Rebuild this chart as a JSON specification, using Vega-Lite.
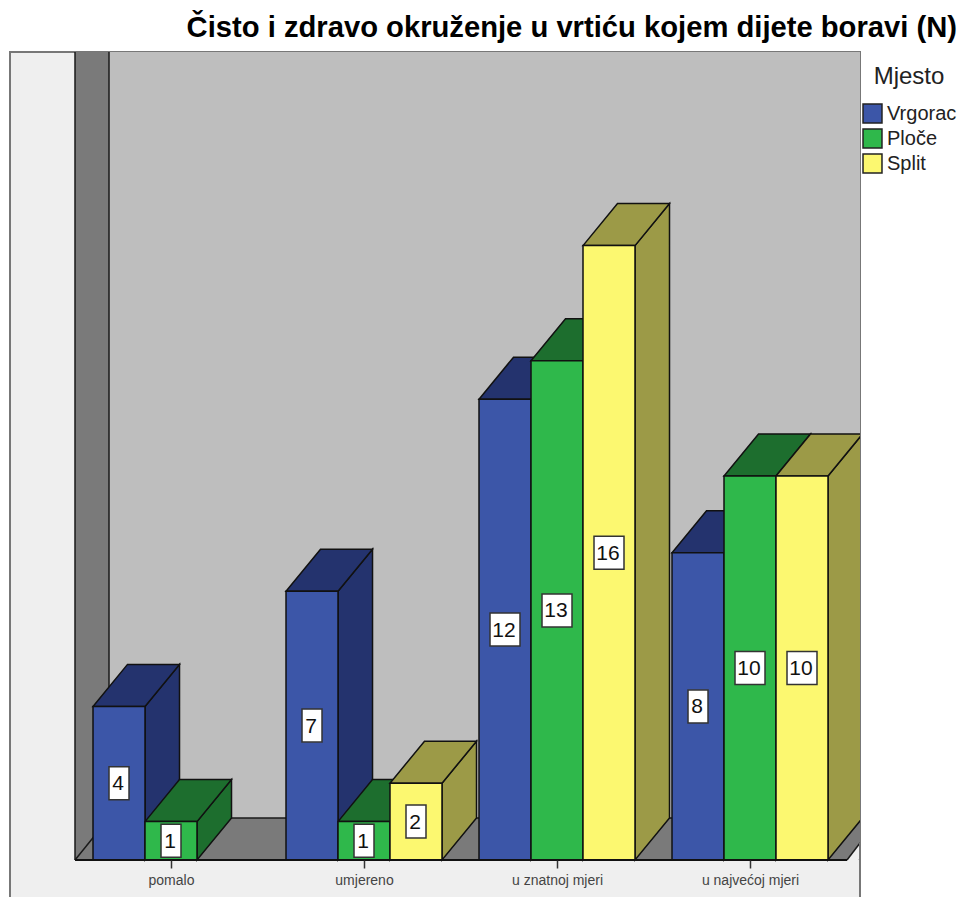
{
"$schema":"https://vega.github.io/schema/vega-lite/v6.json",
"width":850,"height":845,"autosize":"none",
"padding":{"left":10,"top":52,"right":101,"bottom":0},
"background":"white",
"title":{"text":"Čisto i zdravo okruženje u vrtiću kojem dijete boravi (N)","anchor":"end","frame":"group","dx":97,"offset":8,"font":"Liberation Sans","fontSize":29.2,"fontWeight":"bold","color":"#000000"},
"data":{"values":[
{"category":"pomalo","series":"Vrgorac","value":4},
{"category":"pomalo","series":"Ploče","value":1},
{"category":"umjereno","series":"Vrgorac","value":7},
{"category":"umjereno","series":"Ploče","value":1},
{"category":"umjereno","series":"Split","value":2},
{"category":"u znatnoj mjeri","series":"Vrgorac","value":12},
{"category":"u znatnoj mjeri","series":"Ploče","value":13},
{"category":"u znatnoj mjeri","series":"Split","value":16},
{"category":"u najvećoj mjeri","series":"Vrgorac","value":8},
{"category":"u najvećoj mjeri","series":"Ploče","value":10},
{"category":"u najvećoj mjeri","series":"Split","value":10}
]},
"transform":[
{"calculate":"indexof(['pomalo','umjereno','u znatnoj mjeri','u najvećoj mjeri'],datum.category)","as":"cat"},
{"calculate":"indexof(['Vrgorac','Ploče','Split'],datum.series)","as":"ser"},
{"calculate":"datum.cat+(datum.ser-1.5)*0.2694","as":"xl"},
{"calculate":"datum.xl+0.2694","as":"xr"},
{"calculate":"datum.category+datum.series","as":"key"}
],
"layer":[
{"data":{"values":[{}]},"mark":{"type":"rect","fill":"#efefef","stroke":"#777777","strokeWidth":2},
 "encoding":{"x":{"datum":-0.8342,"type":"quantitative","scale":{"domain":[-0.8342,3.5699],"nice":false,"zero":false},
   "axis":{"title":null,"values":[0,1,2,3],"labelExpr":"['pomalo','umjereno','u znatnoj mjeri','u najvećoj mjeri'][datum.value]","offset":-37,"domain":false,"grid":false,"tickSize":8,"tickWidth":1.5,"tickColor":"#333333","labelFontSize":14,"labelFont":"Liberation Sans","labelColor":"#444444","labelPadding":5,"zindex":1}},
  "x2":{"datum":3.5699},
  "y":{"datum":-1.2,"type":"quantitative","scale":{"domain":[-0.9635,21.042],"nice":false,"zero":false},"axis":null},
  "y2":{"datum":21.042}}},
{"data":{"values":[{}]},"mark":{"type":"rect","fill":"#7a7a7a"},
 "encoding":{"x":{"datum":-0.4974,"type":"quantitative"},"x2":{"datum":3.5699},"y":{"datum":0,"type":"quantitative"},"y2":{"datum":21.042}}},
{"data":{"values":[{}]},"mark":{"type":"rect","fill":"#bebebe"},
 "encoding":{"x":{"datum":-0.3212,"type":"quantitative"},"x2":{"datum":3.5699},"y":{"datum":1.094,"type":"quantitative"},"y2":{"datum":21.042}}},
{"data":{"values":[{}]},"mark":{"type":"rule","stroke":"#efefef","strokeWidth":9,"clip":true},
 "encoding":{"x":{"datum":3.5057,"type":"quantitative"},"x2":{"datum":3.6041},"y":{"datum":-0.1745,"type":"quantitative"},"y2":{"datum":0.4766}}},
{"data":{"values":[{}]},"mark":{"type":"rule","stroke":"#1a1a1a","strokeWidth":1.5},
 "encoding":{"x":{"datum":-0.4974,"type":"quantitative"},"y":{"datum":0,"type":"quantitative"},"y2":{"datum":21.042}}},
{"data":{"values":[{}]},"mark":{"type":"rule","stroke":"#1a1a1a","strokeWidth":1.5},
 "encoding":{"x":{"datum":-0.3212,"type":"quantitative"},"y":{"datum":1.094,"type":"quantitative"},"y2":{"datum":21.042}}},
{"data":{"values":[{}]},"mark":{"type":"rule","stroke":"#1a1a1a","strokeWidth":1.5},
 "encoding":{"x":{"datum":-0.3212,"type":"quantitative"},"x2":{"datum":3.5699},"y":{"datum":1.094,"type":"quantitative"}}},
{"data":{"values":[{}]},"mark":{"type":"rule","stroke":"#1a1a1a","strokeWidth":1.5},
 "encoding":{"x":{"datum":-0.4974,"type":"quantitative"},"x2":{"datum":-0.3212},"y":{"datum":0,"type":"quantitative"},"y2":{"datum":1.094}}},
{"data":{"values":[{}]},"mark":{"type":"rule","stroke":"#1a1a1a","strokeWidth":1.5},
 "encoding":{"x":{"datum":3.5026,"type":"quantitative"},"x2":{"datum":3.5699},"y":{"datum":0,"type":"quantitative"},"y2":{"datum":0.4427}}},
{"data":{"values":[{}]},"mark":{"type":"rule","stroke":"#777777","strokeWidth":2},
 "encoding":{"x":{"datum":3.5699,"type":"quantitative"},"y":{"datum":-1.2,"type":"quantitative"},"y2":{"datum":0.4427}}},
{"transform":[{"calculate":"[0,1]","as":"t"},{"flatten":["t"]},
  {"calculate":"datum.xr+datum.t*0.1788","as":"px"},
  {"calculate":"datum.value+datum.t*1.094","as":"py"},
  {"calculate":"datum.t*1.094","as":"py2"}],
 "mark":{"type":"area","stroke":"#111111","strokeWidth":1.5,"clip":true},
 "encoding":{"x":{"field":"px","type":"quantitative"},"y":{"field":"py","type":"quantitative"},"y2":{"field":"py2"},"detail":{"field":"key"},
  "fill":{"field":"series","type":"nominal","legend":null,"scale":{"domain":["Vrgorac","Ploče","Split"],"range":["#24336e","#1d6e2e","#9c9a47"]}}}},
{"transform":[{"calculate":"[0,1,2,3]","as":"t"},{"flatten":["t"]},
  {"calculate":"datum.t==0?datum.xl:datum.t==1?datum.xl+0.1788:datum.t==2?datum.xr:datum.xr+0.1788","as":"px"},
  {"calculate":"datum.t==0?datum.value:datum.value+1.094","as":"py"},
  {"calculate":"datum.t==3?datum.value+1.094:datum.value","as":"py2"}],
 "mark":{"type":"area","stroke":"#111111","strokeWidth":1.5,"clip":true},
 "encoding":{"x":{"field":"px","type":"quantitative"},"y":{"field":"py","type":"quantitative"},"y2":{"field":"py2"},"detail":{"field":"key"},
  "fill":{"field":"series","type":"nominal","legend":null,"scale":{"domain":["Vrgorac","Ploče","Split"],"range":["#24336e","#1d6e2e","#9c9a47"]}}}},
{"transform":[{"calculate":"0","as":"base"}],
 "mark":{"type":"rect","stroke":"#111111","strokeWidth":1.5},
 "encoding":{"x":{"field":"xl","type":"quantitative"},"x2":{"field":"xr"},"y":{"field":"value","type":"quantitative"},"y2":{"field":"base"},
  "color":{"field":"series","type":"nominal","scale":{"domain":["Vrgorac","Ploče","Split"],"range":["#3c56a8","#2fb84b","#fcf870"]},
   "legend":{"title":"Mjesto","orient":"none","legendX":852,"legendY":13,"symbolType":"square","symbolSize":360,"symbolStrokeColor":"#222222","symbolStrokeWidth":1.5,"titleFont":"Liberation Sans","titleFontSize":24,"titleFontWeight":"normal","titleColor":"#222222","titleAnchor":"middle","titlePadding":14,"labelFont":"Liberation Sans","labelFontSize":20,"labelColor":"#222222","labelOffset":4,"rowPadding":0,"padding":0}}}},
{"data":{"values":[{}]},"mark":{"type":"rule","stroke":"#111111","strokeWidth":2},
 "encoding":{"x":{"datum":-0.4974,"type":"quantitative"},"x2":{"datum":3.5026},"y":{"datum":0,"type":"quantitative"}}},
{"transform":[{"calculate":"datum.value>=10?0.0777:0.0518","as":"hw"},
  {"calculate":"(datum.xl+datum.xr)/2","as":"xc"},
  {"calculate":"datum.xc-datum.hw","as":"bx"},{"calculate":"datum.xc+datum.hw","as":"bx2"},
  {"calculate":"datum.value/2-0.43","as":"by"},{"calculate":"datum.value/2+0.43","as":"by2"}],
 "mark":{"type":"rect","fill":"#ffffff","stroke":"#333333","strokeWidth":1.5},
 "encoding":{"x":{"field":"bx","type":"quantitative"},"x2":{"field":"bx2"},"y":{"field":"by","type":"quantitative"},"y2":{"field":"by2"}}},
{"transform":[{"calculate":"(datum.xl+datum.xr)/2","as":"xc"},{"calculate":"datum.value/2","as":"yc"}],
 "mark":{"type":"text","font":"Liberation Sans","fontSize":21,"color":"#111111","baseline":"middle","align":"center","dx":-1,"dy":1},
 "encoding":{"x":{"field":"xc","type":"quantitative"},"y":{"field":"yc","type":"quantitative"},"text":{"field":"value","type":"quantitative"}}}
],
"resolve":{"scale":{"fill":"independent"}},
"config":{"view":{"stroke":null}}
}
